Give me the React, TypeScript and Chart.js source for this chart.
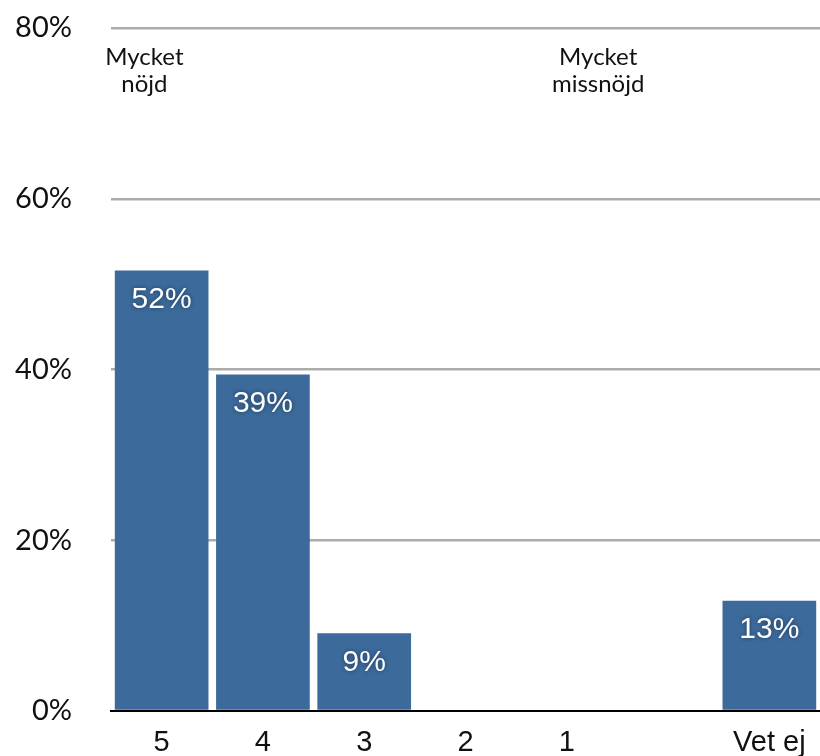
import React, { useEffect, useRef } from "react";
import { Chart, registerables } from "chart.js";

Chart.register(...registerables);

const categories = ["5", "4", "3", "2", "1", "", "Vet ej"];
const values: (number | null)[] = [51.6, 39.4, 9.1, 0, 0, null, 12.9];
const yTicks = [0, 20, 40, 60, 80];
const noteLeft = ["Mycket", "nöjd"];
const noteRight = ["Mycket", "missnöjd"];

const BAR_COLOR = "#3b6a9b";

const labelsPlugin = {
  id: "barLabels",
  afterDatasetsDraw(chart: any) {
    const ctx = chart.ctx;
    const meta = chart.getDatasetMeta(0);
    ctx.save();
    ctx.font = "30px 'Liberation Sans', Arial, sans-serif";
    ctx.fillStyle = "#ffffff";
    ctx.textAlign = "center";
    ctx.textBaseline = "middle";
    ctx.shadowColor = "rgba(0,0,0,0.45)";
    ctx.shadowBlur = 4;
    meta.data.forEach((el: any, i: number) => {
      const v = values[i];
      if (v == null || v === 0) return;
      ctx.fillText(Math.round(v) + "%", el.x, el.y + 29);
    });
    ctx.restore();

    // annotations
    const xs = chart.scales.x;
    const ys = chart.scales.y;
    const cw = xs.getPixelForValue(1) - xs.getPixelForValue(0);
    ctx.save();
    ctx.font = "24px 'Lato', 'Open Sans', sans-serif";
    ctx.fillStyle = "#111";
    ctx.textAlign = "center";
    ctx.textBaseline = "middle";
    const y1 = ys.getPixelForValue(76.6);
    const y2 = ys.getPixelForValue(73.4);
    const xl = xs.getPixelForValue(0) - cw * 0.17;
    const xr = xs.getPixelForValue(4) + cw * 0.31;
    ctx.fillText(noteLeft[0], xl, y1);
    ctx.fillText(noteLeft[1], xl, y2);
    ctx.fillText(noteRight[0], xr, y1);
    ctx.fillText(noteRight[1], xr, y2);
    ctx.restore();
  },
};

export default function App() {
  const ref = useRef<HTMLCanvasElement | null>(null);
  useEffect(() => {
    if (!ref.current) return;
    const chart = new Chart(ref.current, {
      type: "bar",
      data: {
        labels: categories,
        datasets: [
          {
            data: values,
            backgroundColor: BAR_COLOR,
            barPercentage: 0.925,
            categoryPercentage: 1,
          },
        ],
      },
      options: {
        animation: false,
        responsive: false,
        maintainAspectRatio: false,
        layout: { padding: { top: 28, right: -3, left: 0, bottom: 0 } },
        plugins: { legend: { display: false }, tooltip: { enabled: false } },
        scales: {
          x: {
            grid: { display: false },
            border: { display: true, color: "#000", width: 2 },
            ticks: {
              color: "#111",
              font: { family: "'Liberation Sans', Arial, sans-serif", size: 29 },
              padding: 7,
              maxRotation: 0,
              autoSkip: false,
            },
            afterFit: (s: any) => {
              s.height = 45;
              s.paddingLeft = 0;
              s.paddingRight = 0;
            },
          },
          y: {
            min: 0,
            max: 80,
            afterBuildTicks: (s: any) => {
              s.ticks = yTicks.map((v) => ({ value: v }));
            },
            grid: {
              drawTicks: false,
              color: (c: any) => (c.tick && c.tick.value === 0 ? "rgba(0,0,0,0)" : "#ababab"),
              lineWidth: 2.5,
            },
            border: { display: false },
            ticks: {
              color: "#111",
              font: { family: "'Lato', 'Open Sans', sans-serif", size: 29 },
              padding: 39,
              callback: (v: any) => v + "%",
            },
            afterFit: (s: any) => {
              s.width = 111;
              s.paddingTop = 0;
              s.paddingBottom = 0;
            },
          },
        },
      },
      plugins: [labelsPlugin],
    });
    return () => chart.destroy();
  }, []);
  return (
    <div style={{ position: "fixed", left: 0, top: 0, width: 820, height: 756, background: "#fff" }}>
      <canvas ref={ref} width={820} height={756} />
    </div>
  );
}
